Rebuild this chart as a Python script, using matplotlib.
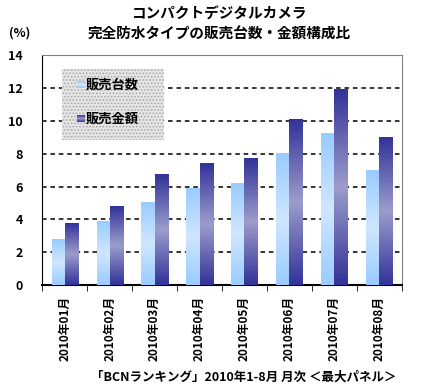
import numpy as np
import matplotlib
matplotlib.use('Agg')
import matplotlib.pyplot as plt
from matplotlib.colors import LinearSegmentedColormap
from matplotlib.patches import Rectangle

plt.rcParams['font.family'] = ['Noto Sans CJK JP', 'DejaVu Sans']
plt.rcParams['hatch.linewidth'] = 0.8

months = ['2010年01月', '2010年02月', '2010年03月', '2010年04月',
          '2010年05月', '2010年06月', '2010年07月', '2010年08月']
units = [2.75, 3.85, 5.0, 5.85, 6.2, 8.0, 9.25, 6.95]     # 販売台数
amount = [3.75, 4.8, 6.75, 7.4, 7.7, 10.1, 11.9, 9.0]     # 販売金額
yticks = [0, 2, 4, 6, 8, 10, 12, 14]

light_cm = LinearSegmentedColormap.from_list('l', ['#99ccff', '#d0e6ff', '#99ccff'])
dark_cm = LinearSegmentedColormap.from_list('d', ['#333399', '#9c9ccc', '#333399'])
grad = np.linspace(0, 1, 100).reshape(-1, 1)

fig = plt.figure(figsize=(4.48, 3.91), dpi=100)
ax = fig.add_axes([0.094, 0.271, 0.803, 0.588])

w = 0.29
x = np.arange(len(months))
for i in x:
    ax.imshow(grad, cmap=light_cm, aspect='auto', extent=[i - w, i, 0, units[i]], zorder=3)
    ax.imshow(grad, cmap=dark_cm, aspect='auto', extent=[i, i + w, 0, amount[i]], zorder=3)

ax.set_yticks(yticks)
ax.set_yticklabels([str(t) for t in yticks], fontsize=9, fontweight='bold')
ax.tick_params(axis='y', length=0, pad=14)
ax.set_xticks(x)
ax.set_xticklabels(months, rotation=90, fontsize=8.5, fontweight='bold')
ax.tick_params(axis='x', which='major', length=0, pad=8)
ax.set_xticks(np.arange(-0.5, len(months)), minor=True)
ax.tick_params(axis='x', which='minor', length=4, direction='out', color='black')

for t in yticks[1:-1]:
    ax.axhline(t, color='black', lw=1.1, ls=(0, (3, 2.5)), zorder=1)

ax.spines['left'].set_color('black')
ax.spines['bottom'].set_color('black')
ax.spines['bottom'].set_linewidth(1.5)
ax.spines['right'].set_color('#808080')
ax.spines['top'].set_color('#808080')

# legend box
ax.add_patch(Rectangle((0.055, 0.63), 0.285, 0.31, transform=ax.transAxes,
                       facecolor='#e6e6e6', edgecolor='#a8a8a8', linewidth=0,
                       hatch='.....', zorder=4))
ax.imshow(grad, cmap=light_cm, aspect='auto', transform=ax.transAxes,
          extent=[0.098, 0.118, 0.855, 0.885], zorder=5)
ax.imshow(grad, cmap=dark_cm, aspect='auto', transform=ax.transAxes,
          extent=[0.098, 0.118, 0.71, 0.74], zorder=5)
ax.set_xlim(-0.5, len(months) - 0.5)
ax.set_ylim(0, 14)
ax.text(0.122, 0.87, '販売台数', transform=ax.transAxes, fontsize=9.5,
        fontweight='bold', va='center', zorder=6)
ax.text(0.122, 0.725, '販売金額', transform=ax.transAxes, fontsize=9.5,
        fontweight='bold', va='center', zorder=6)

fig.text(0.49, 0.965, 'コンパクトデジタルカメラ', ha='center', va='center',
         fontsize=10.5, fontweight='bold')
fig.text(0.49, 0.915, '完全防水タイプの販売台数・金額構成比', ha='center', va='center',
         fontsize=10.5, fontweight='bold')
fig.text(0.045, 0.915, '(%)', ha='center', va='center', fontsize=9, fontweight='bold')
fig.text(0.545, 0.035, '「BCNランキング」2010年1-8月 月次 ＜最大パネル＞', ha='center',
         va='center', fontsize=9, fontweight='bold')

fig.savefig('out.png', dpi=100)
